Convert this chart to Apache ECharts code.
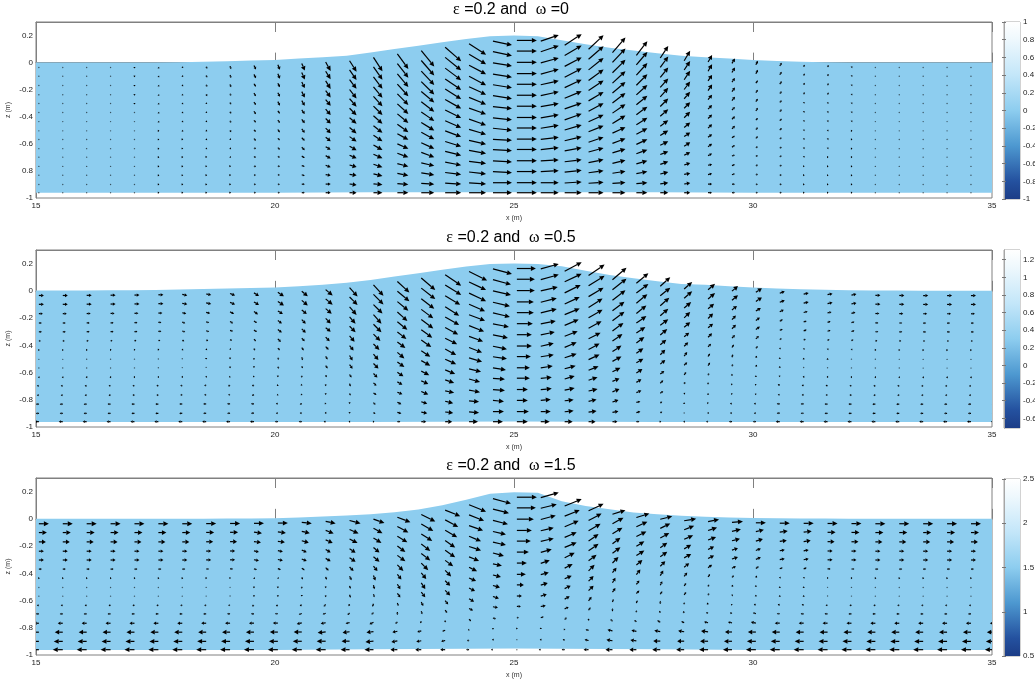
<!DOCTYPE html>
<html><head><meta charset="utf-8">
<style>html,body{margin:0;padding:0;background:#fff}#c{width:1035px;height:682px}</style>
<script src="https://cdn.jsdelivr.net/npm/echarts@6/dist/echarts.min.js"></script>
</head><body><div id="c"></div>
<script>
// Column positions of the arrow tails (m) and of the water surface samples (m)
const xCols=[15.06,15.56,16.06,16.56,17.06,17.56,18.06,18.56,19.06,19.56,20.06,20.56,21.06,21.56,22.06,22.56,23.06,23.56,24.06,24.56,25.06,25.56,26.06,26.56,27.06,27.56,28.06,28.56,29.06,29.56,30.06,30.56,31.06,31.56,32.06,32.56,33.06,33.56,34.06,34.56,35.06];
const surfX=[15,15.5,16,16.5,17,17.5,18,18.5,19,19.5,20,20.5,21,21.5,22,22.5,23,23.5,24,24.5,25,25.5,26,26.5,27,27.5,28,28.5,29,29.5,30,30.5,31,31.5,32,32.5,33,33.5,34,34.5,35];
// Water surface elevation (m)
const surf1=[0,0,0,0,0,0,.003,.006,.01,.015,.02,.03,.04,.05,.075,.1,.125,.15,.175,.195,.2,.195,.165,.135,.11,.09,.07,.05,.04,.03,.02,.012,.006,.003,.001,0,0,0,0,0,0];
const surf2=[.002,.002,.003,.004,.005,.007,.01,.013,.017,.021,.025,.033,.045,.06,.08,.105,.13,.155,.178,.197,.2,.197,.18,.148,.117,.092,.07,.05,.044,.034,.025,.018,.012,.008,.005,.003,.002,.001,.001,.001,.001];
const surf3=[0,0,0,0,0,0,0,.001,.002,.003,.005,.01,.017,.024,.034,.048,.068,.1,.14,.185,.195,.192,.13,.095,.07,.046,.033,.022,.016,.01,.007,.004,.003,.002,.001,0,0,0,0,0,0];
// Bottom of the water body (m)
const bedX=[15,20,22,25,28,30,35];
const bed1=[-.961,-.961,-.958,-.958,-.958,-.961,-.961];
const bed2=[-.963,-.963,-.963,-.96,-.963,-.963,-.963];
const bed3=[-.963,-.963,-.958,-.952,-.958,-.963,-.963];
// Relative depth of the 15 rows of arrows, from below the surface to the bottom
const rowFrac=[0,.07,.144,.218,.288,.36,.432,.506,.575,.648,.716,.79,.861,.934,1];
// Horizontal velocity (panel 1: same at every depth), scaled
const u1ByCol=[0,0,0,0,0,1,1,1,1,2,2,3,5,7,9,11,13,16,17,19,20,18,17,15,13,11,8,6,4,3,2,2,1,1,1,0,0,0,0,0,0];
// Vertical velocity, panel 1 (trailing zeros omitted)
const w1=[
[0,0,0,0,-1,-1,-1,-2,-3,-4,-5,-7,-9,-11,-14,-15,-16,-14,-11,-4,0,6,11,14,15,14,12,10,7,5,4,3,2,2,1],
[0,0,0,0,-1,-1,-1,-2,-3,-4,-5,-7,-8,-10,-13,-14,-15,-13,-10,-4,0,6,10,13,14,13,11,9,7,5,4,3,2,2,1],
[0,0,0,0,-1,-1,-1,-2,-3,-3,-4,-6,-8,-9,-12,-13,-14,-12,-9,-3,0,5,9,12,13,12,10,9,6,4,3,3,2,2,1],
[0,0,0,0,-1,-1,-1,-2,-2,-3,-4,-6,-7,-9,-11,-12,-13,-11,-9,-3,0,5,9,11,12,11,9,8,6,4,3,2,2,2,1],
[0,0,0,0,-1,-1,-1,-1,-2,-3,-4,-5,-6,-8,-10,-11,-11,-10,-8,-3,0,4,8,10,11,10,9,7,5,4,3,2,1,1,1],
[0,0,0,0,0,-1,-1,-1,-2,-3,-3,-4,-6,-7,-9,-10,-10,-9,-7,-3,0,4,7,9,10,9,8,6,4,3,3,2,1,1,1],
[0,0,0,0,0,-1,-1,-1,-2,-2,-3,-4,-5,-6,-8,-9,-9,-8,-6,-2,0,3,6,8,9,8,7,6,4,3,2,2,1,1,1],
[0,0,0,0,0,0,-1,-1,-2,-2,-3,-4,-5,-6,-7,-8,-8,-7,-6,-2,0,3,6,7,8,7,6,5,4,3,2,2,1,1],
[0,0,0,0,0,0,0,-1,-1,-2,-2,-3,-4,-5,-6,-6,-7,-6,-5,-2,0,3,5,6,6,6,5,4,3,2,2,1,1,1],
[0,0,0,0,0,0,0,-1,-1,-1,-2,-3,-3,-4,-5,-5,-6,-5,-4,-1,0,2,4,5,5,5,4,4,3,2,1,1,1,1],
[0,0,0,0,0,0,0,0,-1,-1,-1,-2,-3,-3,-4,-4,-5,-4,-3,-1,0,2,3,4,4,4,3,3,2,1,1,1,1],
[0,0,0,0,0,0,0,0,0,-1,-1,-1,-2,-2,-3,-3,-3,-3,-2,-1,0,1,2,3,3,3,3,2,1,1,1,1],
[0,0,0,0,0,0,0,0,0,0,0,-1,-1,-1,-2,-2,-2,-2,-2,-1,0,1,2,2,2,2,2,1,1,1,1],
[0,0,0,0,0,0,0,0,0,0,0,0,0,-1,-1,-1,-1,-1,-1,0,0,0,1,1,1,1,1,1],
[]];
// Horizontal velocity, panel 2
const u2=[
[5,5,5,5,5,5,5,5,5,5,6,6,7,8,10,12,14,16,18,19,19,18,17,16,14,12,10,8,7,6,6,5,5,5,5,5,5,5,5,5,5],
[5,5,5,5,5,5,5,5,5,5,6,6,7,8,10,12,14,16,17,18,18,18,17,16,14,12,10,8,7,6,6,5,5,5,5,5,5,5,5,5,5],
[4,4,4,4,4,4,4,4,4,4,5,5,6,7,9,11,13,15,17,18,18,17,16,15,13,11,9,7,6,5,5,4,4,4,4,4,4,4,4,4,4],
[3,3,3,3,3,3,3,3,3,3,4,4,5,6,8,10,12,14,16,17,17,16,15,14,12,10,8,6,5,4,4,3,3,3,3,3,3,3,3,3,3],
[3,3,3,3,3,3,3,3,3,3,4,4,5,6,8,10,12,14,16,17,17,16,15,14,12,10,8,6,5,4,4,3,3,3,3,3,3,3,3,3,3],
[2,2,2,2,2,2,2,2,2,2,3,3,4,5,7,9,11,13,15,16,16,15,14,13,11,9,7,5,4,3,3,2,2,2,2,2,2,2,2,2,2],
[1,1,1,1,1,1,1,1,1,1,2,2,3,4,6,8,10,12,14,15,15,14,13,12,10,8,6,4,3,2,2,1,1,1,1,1,1,1,1,1,1],
[0,0,0,0,0,0,0,0,0,0,1,1,2,3,5,7,9,11,13,14,15,13,12,11,9,7,5,3,2,1,1,0,0,0,0,0,0,0,0,0,0],
[0,0,0,0,0,0,0,0,0,0,1,1,2,3,5,7,9,11,13,14,14,13,12,11,9,7,5,3,2,1,1,0,0,0,0,0,0,0,0,0,0],
[-1,-1,-1,-1,-1,-1,-1,-1,-1,-1,0,0,1,2,4,6,8,10,12,13,13,12,11,10,8,6,4,2,1,0,0,-1,-1,-1,-1,-1,-1,-1,-1,-1,-1],
[-2,-2,-2,-2,-2,-2,-2,-2,-2,-2,-1,-1,0,1,3,5,7,9,11,12,13,11,10,9,7,5,3,1,0,-1,-1,-2,-2,-2,-2,-2,-2,-2,-2,-2,-2],
[-2,-2,-2,-2,-2,-2,-2,-2,-2,-2,-1,-1,0,1,3,5,7,9,11,12,11,11,10,9,7,5,3,1,0,-1,-1,-2,-2,-2,-2,-2,-2,-2,-2,-2,-2],
[-3,-3,-3,-3,-3,-3,-3,-3,-3,-3,-2,-2,-1,0,2,4,6,8,10,11,11,10,9,8,6,4,2,0,-1,-2,-2,-3,-3,-3,-3,-3,-3,-3,-3,-3,-3],
[-3,-3,-3,-3,-3,-3,-3,-3,-3,-3,-2,-2,-1,0,2,4,6,8,10,11,12,10,9,8,6,4,2,0,-1,-2,-2,-3,-3,-3,-3,-3,-3,-3,-3,-3,-3],
[-4,-4,-4,-4,-4,-4,-4,-4,-4,-4,-3,-3,-2,-1,1,3,5,7,9,10,11,9,8,7,5,3,1,-1,-2,-3,-3,-4,-4,-4,-4,-4,-4,-4,-4,-4,-4]];
// Vertical velocity, panel 2
const w2=[
[0,0,0,0,0,0,-1,-1,-2,-3,-4,-5,-6,-9,-11,-11,-12,-11,-9,-5,0,5,9,11,12,10,9,7,6,5,4,2,1,1,1],
[0,0,0,0,0,0,-1,-1,-2,-3,-4,-5,-6,-8,-10,-10,-11,-10,-8,-5,0,5,8,10,11,9,8,7,6,5,4,2,1,1,1],
[0,0,0,0,0,0,-1,-1,-2,-3,-3,-4,-5,-8,-9,-9,-10,-9,-8,-4,0,4,8,9,10,9,8,6,5,4,3,2,1,1,1],
[0,0,0,0,0,0,-1,-1,-2,-2,-3,-4,-5,-7,-9,-9,-9,-9,-7,-4,0,4,7,9,9,8,7,6,5,4,3,2,1,1,1],
[0,0,0,0,0,0,-1,-1,-1,-2,-3,-4,-4,-6,-8,-8,-9,-8,-6,-4,0,4,6,8,9,7,6,5,4,4,3,1,1,1,1],
[0,0,0,0,0,0,-1,-1,-1,-2,-3,-3,-4,-6,-7,-7,-8,-7,-6,-3,0,3,6,7,8,6,6,4,4,3,3,1,1,1,1],
[0,0,0,0,0,0,-1,-1,-1,-2,-2,-3,-3,-5,-6,-6,-7,-6,-5,-3,0,3,5,6,7,6,5,4,3,3,2,1,1,1,1],
[0,0,0,0,0,0,0,-1,-1,-2,-2,-3,-3,-5,-6,-6,-6,-6,-5,-3,0,3,5,6,6,5,5,4,3,3,2,1,1,1],
[0,0,0,0,0,0,0,0,-1,-1,-2,-2,-3,-4,-5,-5,-5,-5,-4,-2,0,2,4,5,5,4,4,3,3,2,2,1],
[0,0,0,0,0,0,0,0,-1,-1,-1,-2,-2,-3,-4,-4,-4,-4,-3,-2,0,2,3,4,4,4,3,3,2,2,1,1],
[0,0,0,0,0,0,0,0,-1,-1,-1,-1,-2,-3,-3,-3,-3,-3,-3,-1,0,1,3,3,3,3,3,2,2,1,1,1],
[0,0,0,0,0,0,0,0,0,-1,-1,-1,-1,-2,-2,-2,-3,-2,-2,-1,0,1,2,2,3,2,2,1,1,1,1],
[0,0,0,0,0,0,0,0,0,0,0,-1,-1,-1,-2,-2,-2,-2,-1,-1,0,1,1,2,2,1,1,1,1],
[0,0,0,0,0,0,0,0,0,0,0,0,0,-1,-1,-1,-1,-1,-1,0,0,0,1,1,1,1,1],
[]];
// Horizontal velocity, panel 3
const u3=[
[10,10,10,10,10,10,10,10,10,10,10,10,10,11,11,13,14,15,17,18,20,18,17,15,13,13,12,12,11,11,10,10,10,10,10,10,10,10,10,10,10],
[8,8,8,8,8,8,8,8,8,8,8,8,8,9,9,11,12,13,15,16,19,16,15,13,11,11,10,10,9,9,8,8,8,8,8,8,8,8,8,8,8],
[7,7,7,7,7,7,7,7,7,7,7,7,7,8,8,10,11,12,14,15,17,15,14,12,10,10,9,9,8,8,7,7,7,7,7,7,7,7,7,7,7],
[5,5,5,5,5,5,5,5,5,5,5,5,5,6,6,8,9,10,12,13,15,13,12,10,8,8,7,7,6,6,5,5,5,5,5,5,5,5,5,5,5],
[5,5,5,5,5,5,5,5,5,5,5,5,5,6,6,8,9,10,12,13,14,13,12,10,8,8,7,7,6,6,5,5,5,5,5,5,5,5,5,5,5],
[3,3,3,3,3,3,3,3,3,3,3,3,3,4,4,6,7,8,10,11,12,11,10,8,6,6,5,5,4,4,3,3,3,3,3,3,3,3,3,3,3],
[1,1,1,1,1,1,1,1,1,1,1,1,1,2,2,4,5,6,8,9,10,9,8,6,4,4,3,3,2,2,1,1,1,1,1,1,1,1,1,1,1],
[0,0,0,0,0,0,0,0,0,0,0,0,0,1,1,3,4,5,7,8,9,8,7,5,3,3,2,2,1,1],
[0,0,0,0,0,0,0,0,0,0,0,0,0,1,1,3,4,5,6,7,7,7,6,5,3,3,2,2,1,1],
[-2,-2,-2,-2,-2,-2,-2,-2,-2,-2,-2,-2,-2,-1,-1,1,2,3,5,6,5,6,5,3,1,1,0,0,-1,-1,-2,-2,-2,-2,-2,-2,-2,-2,-2,-2,-2],
[-3,-3,-3,-3,-3,-3,-3,-3,-3,-3,-3,-3,-3,-2,-2,0,1,2,4,5,4,5,4,2,0,0,-1,-1,-2,-2,-3,-3,-3,-3,-3,-3,-3,-3,-3,-3,-3],
[-5,-5,-5,-5,-5,-5,-5,-5,-5,-5,-5,-5,-5,-4,-4,-2,-1,0,2,3,2,3,2,0,-2,-2,-3,-3,-4,-4,-5,-5,-5,-5,-5,-5,-5,-5,-5,-5,-5],
[-8,-8,-8,-8,-8,-8,-8,-8,-8,-8,-8,-8,-8,-7,-7,-5,-4,-3,-1,0,1,0,-1,-3,-5,-5,-6,-6,-7,-7,-8,-8,-8,-8,-8,-8,-8,-8,-8,-8,-8],
[-9,-9,-9,-9,-9,-9,-9,-9,-9,-9,-9,-9,-9,-8,-8,-6,-5,-4,-2,-1,0,-1,-2,-4,-6,-6,-7,-7,-8,-8,-9,-9,-9,-9,-9,-9,-9,-9,-9,-9,-9],
[-10,-10,-10,-10,-10,-10,-10,-10,-10,-10,-10,-10,-10,-9,-9,-7,-6,-5,-3,-2,0,-2,-3,-5,-7,-7,-8,-8,-9,-9,-10,-10,-10,-10,-10,-10,-10,-10,-10,-10,-10]];
// Vertical velocity, panel 3
const w3=[
[0,0,0,0,0,0,0,0,0,0,0,-1,-2,-3,-4,-5,-7,-6,-7,-5,0,5,7,7,4,4,3,2,2,1],
[0,0,0,0,0,0,0,0,0,-1,-1,-2,-3,-4,-5,-6,-7,-7,-6,-4,0,4,6,7,6,5,5,4,3,2,2,1,1],
[0,0,0,0,0,0,0,0,0,-1,-1,-2,-3,-4,-5,-6,-7,-7,-5,-4,0,4,6,7,6,5,5,4,3,2,2,1,1],
[0,0,0,0,0,0,0,0,0,-1,-1,-2,-3,-4,-5,-6,-7,-7,-5,-3,0,3,5,7,6,5,5,4,3,2,2,1,1],
[0,0,0,0,0,0,0,0,0,-1,-1,-2,-3,-4,-5,-6,-7,-7,-4,-3,0,3,5,7,6,5,5,4,3,2,2,1,1],
[0,0,0,0,0,0,0,0,0,-1,-1,-2,-3,-4,-5,-6,-7,-6,-4,-3,0,3,5,6,6,5,5,4,3,2,2,1,1],
[0,0,0,0,0,0,0,0,0,-1,-1,-2,-3,-4,-5,-5,-6,-6,-4,-2,0,3,4,6,5,5,5,4,3,2,2,1,1],
[0,0,0,0,0,0,0,0,0,-1,-1,-2,-2,-3,-4,-5,-6,-5,-3,-2,0,2,3,5,5,4,4,3,2,2,2,1,1],
[0,0,0,0,0,0,0,0,0,-1,-1,-1,-2,-3,-3,-4,-5,-5,-3,-2,0,2,3,5,4,3,3,3,2,1,1,1,1],
[0,0,0,0,0,0,0,0,0,-1,-1,-1,-2,-2,-3,-3,-4,-4,-3,-2,0,2,3,4,3,3,3,2,2,1,1,1,1],
[0,0,0,0,0,0,0,0,0,0,0,-1,-1,-2,-2,-3,-3,-3,-2,-1,0,1,2,3,3,2,2,2,1,1,1],
[0,0,0,0,0,0,0,0,0,0,0,-1,-1,-1,-2,-2,-2,-2,-2,-1,0,1,2,2,2,2,2,1,1,1,1],
[0,0,0,0,0,0,0,0,0,0,0,0,-1,-1,-1,-1,-1,-1,-1,-1,0,1,1,1,1,1,1,1,1],
[0,0,0,0,0,0,0,0,0,0,0,0,0,0,-1,-1,-1,-1,-1,0,0,0,1,1,1,1],
[]];
// Axis ticks and labels
const xTicks=[15,20,25,30,35];
const yTicks=[.2,0,-.2,-.4,-.6,-.8,-1];
const yLabels1=['0.2','0','-0.2','-0.4','-0.6','0.8','-1'];
const yLabels23=['0.2','0','-0.2','-0.4','-0.6','-0.8','-1'];
const cbTicks1=[-1,-.8,-.6,-.4,-.2,0,.2,.4,.6,.8,1];
const cbTicks2=[-.6,-.4,-.2,0,.2,.4,.6,.8,1,1.2];
const cbTicks3=[.5,1,1.5,2,2.5];
const cbRange1=[-1,1], cbRange2=[-.71,1.31], cbRange3=[.5,2.5];

const FONT='"Liberation Sans",Arial,sans-serif', GREY='#808080', WATER='#8DCDEF';
const panels=[
 {title:['0.2','0'],surf:surf1,bed:bed1,u:rowFrac.map(()=>u1ByCol),w:w1,labels:yLabels1,cb:cbRange1,cbt:cbTicks1,top:22,h:176,ct:22,ch:177,tt:2},
 {title:['0.2','0.5'],surf:surf2,bed:bed2,u:u2,w:w2,labels:yLabels23,cb:cbRange2,cbt:cbTicks2,top:250,h:177,ct:250,ch:178,tt:230},
 {title:['0.2','1.5'],surf:surf3,bed:bed3,u:u3,w:w3,labels:yLabels23,cb:cbRange3,cbt:cbTicks3,top:478,h:177,ct:479,ch:177,tt:458}
];
const grid=[],xAxis=[],yAxis=[],series=[],title=[];
const rich={sym:{fontFamily:'"Liberation Serif",serif',fontSize:16,fontWeight:'normal',color:'#000'},t:{fontFamily:FONT,fontSize:16,fontWeight:'normal',color:'#000'}};
panels.forEach((p,i)=>{
 title.push({text:`{sym|ε}{t| =${p.title[0]} and  }{sym|ω}{t| =${p.title[1]}}`,left:511,top:p.tt,textAlign:'center',textStyle:{rich,fontWeight:'normal'},padding:0});
 grid.push({left:36,width:956,top:p.top,height:p.h,outerBoundsMode:'none',containLabel:false,show:true,borderColor:GREY,borderWidth:1,backgroundColor:'#fff'});
 const gx=grid.length-1;
 const bx=xAxis.length;
 xAxis.push({type:'value',gridIndex:gx,min:15,max:35,position:'bottom',name:'x (m)',nameLocation:'middle',nameGap:17,nameMoveOverlap:false,
  nameTextStyle:{fontFamily:FONT,fontSize:7,color:'#333'},
  axisLine:{show:true,lineStyle:{color:GREY}},splitLine:{show:false},
  axisTick:{show:true,inside:true,length:10,lineStyle:{color:GREY},customValues:xTicks},
  axisLabel:{fontFamily:FONT,fontSize:8,color:'#222',margin:4,customValues:xTicks,showMinLabel:true,showMaxLabel:true,hideOverlap:false}});
 xAxis.push({type:'value',gridIndex:gx,min:15,max:35,position:'top',
  axisLine:{show:true,lineStyle:{color:GREY}},splitLine:{show:false},
  axisTick:{show:true,inside:true,length:10,lineStyle:{color:GREY},customValues:xTicks},axisLabel:{show:false}});
 const by=yAxis.length;
 yAxis.push({type:'value',gridIndex:gx,min:-1,max:.3,position:'left',name:'z (m)',nameLocation:'middle',nameGap:24,nameMoveOverlap:false,
  nameTextStyle:{fontFamily:FONT,fontSize:7,color:'#333'},
  axisLine:{show:true,lineStyle:{color:GREY}},splitLine:{show:false},axisTick:{show:false},
  axisLabel:{fontFamily:FONT,fontSize:8,color:'#222',margin:3,customValues:yTicks,hideOverlap:false,
   formatter:v=>{const k=yTicks.findIndex(t=>Math.abs(t-v)<1e-6);return k<0?'':p.labels[k];}}});
 // water body
 series.push({type:'custom',xAxisIndex:bx,yAxisIndex:by,clip:true,silent:true,animation:false,z:2,
  data:surfX.map((x,k)=>[x,p.surf[k]]),
  renderItem:(params,api)=>{
   if(params.dataIndex!==0) return null;
   const pts=surfX.map((x,k)=>api.coord([x,p.surf[k]]));
   for(let k=bedX.length-1;k>=0;k--) pts.push(api.coord([bedX[k],p.bed[k]]));
   return {type:'polygon',shape:{points:pts},style:{fill:WATER}};
  }});
 // arrows
 const data=[];
 xCols.forEach((x,k)=>{
  const top=p.surf[k]-.036, bot=-.961;
  rowFrac.forEach((f,j)=>{
   data.push([x,top+(bot-top)*f,p.u[j][k]||0,p.w[j][k]||0]);
  });
 });
 series.push({type:'custom',xAxisIndex:bx,yAxisIndex:by,clip:true,silent:true,animation:false,z:3,data,
  renderItem:(params,api)=>{
   const a=api.coord([api.value(0),api.value(1)]);
   const dx=api.value(2),dy=-api.value(3),len=Math.hypot(dx,dy);
   if(len<.5) return {type:'circle',shape:{cx:a[0],cy:a[1],r:.7},style:{fill:'rgba(0,0,0,.6)'}};
   const b=[a[0]+dx,a[1]+dy],ux=dx/len,uy=dy/len;
   const hl=Math.min(5,Math.max(1.5,len*.55)),hw=Math.min(2.4,Math.max(1.1,hl*.6));
   const n=[b[0]-ux*hl,b[1]-uy*hl];
   return {type:'group',children:[
    {type:'line',shape:{x1:a[0],y1:a[1],x2:n[0],y2:n[1]},style:{stroke:'#000',lineWidth:1.2}},
    {type:'polygon',shape:{points:[b,[n[0]-uy*hw,n[1]+ux*hw],[n[0]+uy*hw,n[1]-ux*hw]]},style:{fill:'#000'}}
   ]};
  }});
});
panels.forEach((p,i)=>{
 grid.push({left:1004,width:16,top:p.ct,height:p.ch,outerBoundsMode:'none',containLabel:false,show:true,borderColor:'#a6a6a6',borderWidth:1});
 const gx=grid.length-1,bx=xAxis.length,by=yAxis.length;
 xAxis.push({type:'value',gridIndex:gx,min:0,max:1,show:false});
 const tick={show:true,inside:true,length:2,lineStyle:{color:'#777'},customValues:p.cbt};
 yAxis.push({type:'value',gridIndex:gx,min:p.cb[0],max:p.cb[1],position:'right',z:5,
  axisLine:{show:true,lineStyle:{color:'#a6a6a6'}},splitLine:{show:false},axisTick:tick,
  axisLabel:{fontFamily:FONT,fontSize:8,color:'#222',margin:3,customValues:p.cbt,hideOverlap:false,formatter:v=>String(+v.toFixed(1))}});
 yAxis.push({type:'value',gridIndex:gx,min:p.cb[0],max:p.cb[1],position:'left',z:5,
  axisLine:{show:true,lineStyle:{color:'#a6a6a6'}},splitLine:{show:false},axisTick:tick,axisLabel:{show:false}});
 series.push({type:'custom',xAxisIndex:bx,yAxisIndex:by,silent:true,animation:false,clip:true,data:[[0,p.cb[0],1,p.cb[1]]],
  renderItem:(params,api)=>{
   const a=api.coord([0,api.value(3)]),b=api.coord([1,api.value(1)]);
   return {type:'rect',shape:{x:a[0],y:a[1],width:b[0]-a[0],height:b[1]-a[1]},style:{fill:new echarts.graphic.LinearGradient(0,1,0,0,[
    {offset:0,color:'#1c3d87'},{offset:.1,color:'#24519f'},{offset:.3,color:'#4d98d0'},{offset:.5,color:'#8DCDEF'},{offset:.7,color:'#c3e6f9'},{offset:.9,color:'#eef8fd'},{offset:1,color:'#ffffff'}])}};
  }});
});
const chart=echarts.init(document.getElementById('c'),null,{renderer:'canvas'});
chart.setOption({animation:false,backgroundColor:'#fff',title,grid,xAxis,yAxis,series});
</script></body></html>
